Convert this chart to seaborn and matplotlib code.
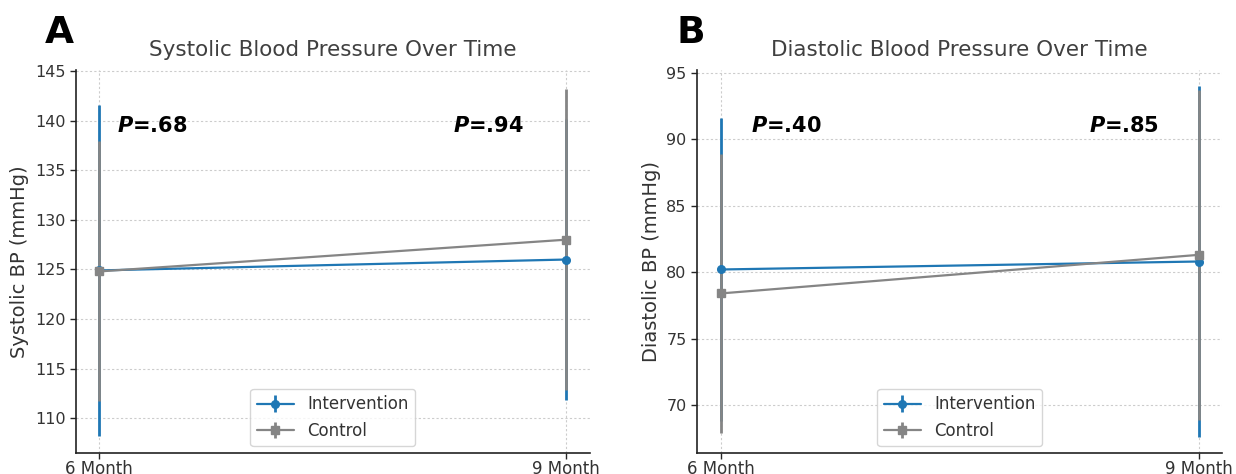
import matplotlib
matplotlib.use("Agg")
import matplotlib.pyplot as plt
import seaborn as sns
import numpy as np

# ---- data ----
timepoints = ["6 Month", "9 Month"]
groups = ["Intervention", "Control"]

sys_int_mean = [124.9, 126.0]
sys_int_sd = [16.7, 14.2]
sys_ctl_mean = [124.8, 128.0]
sys_ctl_sd = [13.1, 15.2]

dia_int_mean = [80.2, 80.8]
dia_int_sd = [11.4, 13.2]
dia_ctl_mean = [78.4, 81.3]
dia_ctl_sd = [10.5, 12.4]

sys_pvals = [".68", ".94"]
dia_pvals = [".40", ".85"]

sns.set_theme(style="ticks")
plt.rcParams['font.family'] = ['DejaVu Sans']

fig = plt.figure(figsize=(12.36, 4.74), dpi=100)
axA = fig.add_axes([0.0615, 0.0443, 0.4155, 0.808])
axB = fig.add_axes([0.564, 0.0443, 0.425, 0.808])

blue = "#1f77b4"
gray = "#858585"
txtc = "#333333"

def panel(ax, im, isd, cm, csd, pv, title, ylabel, ylim, yticks, pys, pxs):
    x = np.arange(len(timepoints))
    ax.errorbar(x, im, yerr=isd, fmt='-o', color=blue, lw=1.6, elinewidth=2.0,
                markersize=5.5, label=groups[0], zorder=3)
    ax.errorbar(x, cm, yerr=csd, fmt='-s', color=gray, lw=1.6, elinewidth=2.0,
                markersize=5.5, label=groups[1], zorder=3)
    ax.set_xticks(x)
    ax.set_xticklabels(timepoints, fontsize=12, color=txtc)
    ax.set_xlim(-0.05, 1.05)
    ax.set_ylim(*ylim)
    ax.set_yticks(yticks)
    ax.tick_params(axis='y', labelsize=11.5, labelcolor=txtc, length=4, width=1)
    ax.tick_params(axis='x', length=4, width=1, pad=1)
    ax.grid(True, linestyle=(0, (2, 2)), color="#cccccc", lw=0.8)
    ax.set_axisbelow(True)
    sns.despine(ax=ax)
    for s in ["left", "bottom"]:
        ax.spines[s].set_color("#222222")
        ax.spines[s].set_linewidth(1.2)
    ax.set_title(title, fontsize=15.5, color="#404040", pad=10)
    ax.set_ylabel(ylabel, fontsize=14, color=txtc, labelpad=4)
    for p, px in zip(pv, pxs):
        ax.text(px, pys, r"$\mathbfit{P}$" + "=" + p, fontsize=15, fontweight='bold',
                color="black", va='center', ha='left')
    leg = ax.legend(loc='lower center', fontsize=12, frameon=True, fancybox=True,
                    edgecolor="#cccccc", borderaxespad=0.4, handlelength=2.2)
    for t in leg.get_texts():
        t.set_color(txtc)

panel(axA, sys_int_mean, sys_int_sd, sys_ctl_mean, sys_ctl_sd, sys_pvals,
      "Systolic Blood Pressure Over Time", "Systolic BP (mmHg)",
      (106.5, 145.1), [110, 115, 120, 125, 130, 135, 140, 145], 139.5, [0.038, 0.758])
panel(axB, dia_int_mean, dia_int_sd, dia_ctl_mean, dia_ctl_sd, dia_pvals,
      "Diastolic Blood Pressure Over Time", "Diastolic BP (mmHg)",
      (66.4, 95.2), [70, 75, 80, 85, 90, 95], 91.0, [0.063, 0.77])

fig.text(0.036, 0.909, "A", fontsize=27, fontweight='bold', color='black')
fig.text(0.547, 0.909, "B", fontsize=27, fontweight='bold', color='black')

fig.savefig("out.png", dpi=100)
